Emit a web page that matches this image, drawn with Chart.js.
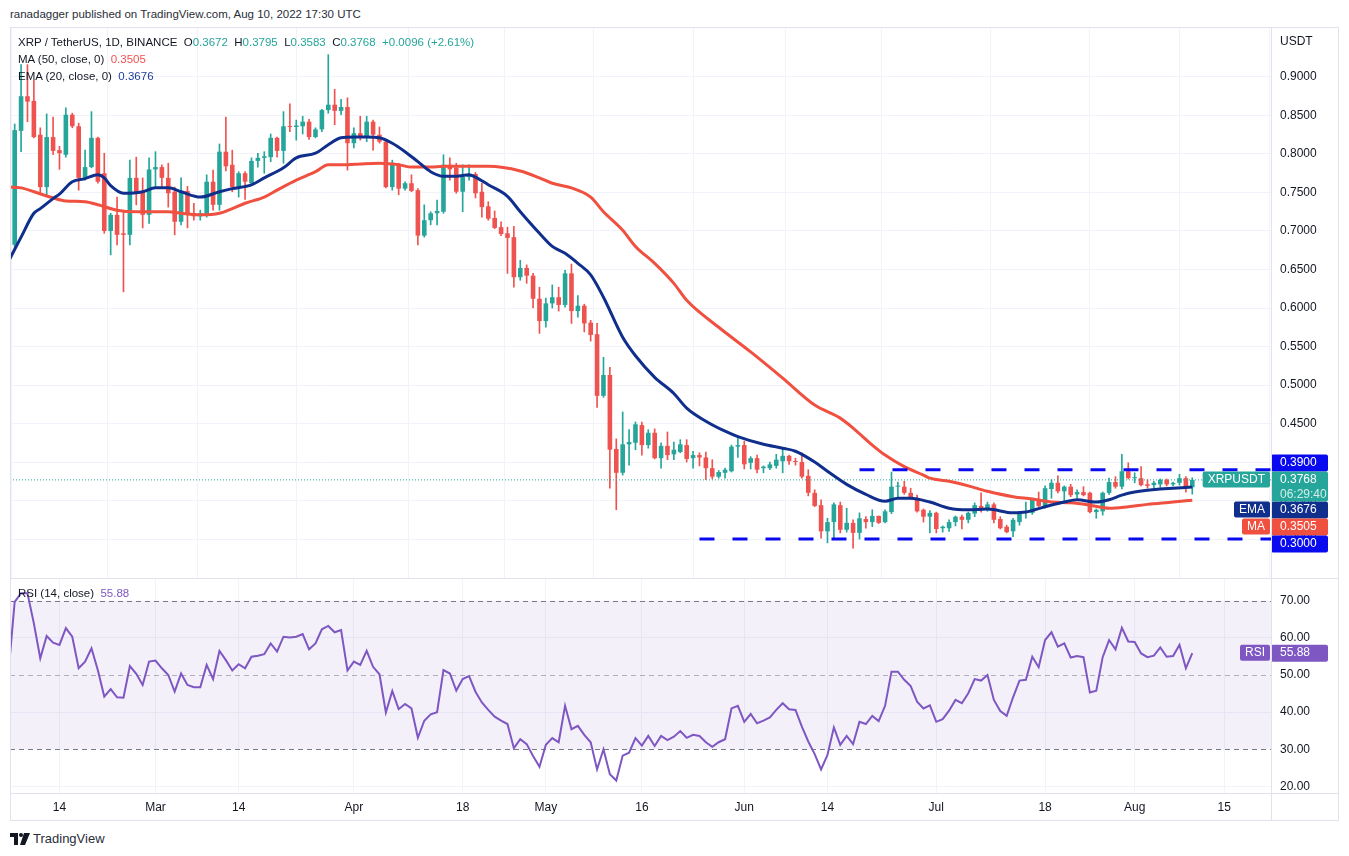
<!DOCTYPE html>
<html>
<head>
<meta charset="utf-8">
<title>XRP / TetherUS, 1D</title>
<script src="https://cdn.jsdelivr.net/npm/chart.js@4.4.1/dist/chart.umd.min.js"></script>
<style>
  html, body { margin: 0; padding: 0; background: #fff; }
  body { width: 1349px; height: 856px; position: relative; overflow: hidden;
         font-family: "Liberation Sans", Arial, sans-serif; color: #131722; }
  .abs { position: absolute; }
  #price-wrap { left: 0; top: 0; width: 1349px; height: 578px; }
  #rsi-wrap { left: 0; top: 578px; width: 1349px; height: 242px; }
  .line { position: absolute; background: #e0e3eb; pointer-events: none; }
  .txt { position: absolute; font-size: 11.5px; line-height: 14px; white-space: pre; }
  .up { color: #26a69a; }
</style>
</head>
<body>
<div class="txt" style="left:10px; top:7px; color:#2a2e39;">ranadagger published on TradingView.com, Aug 10, 2022 17:30 UTC</div>

<div id="price-wrap" class="abs"><canvas id="price"></canvas></div>
<div id="rsi-wrap" class="abs"><canvas id="rsi"></canvas></div>

<!-- frame -->
<div class="line" style="left:10px; top:27px; width:1329px; height:1px;"></div>
<div class="line" style="left:10px; top:820px; width:1329px; height:1px;"></div>
<div class="line" style="left:10px; top:27px; width:1px; height:794px;"></div>
<div class="line" style="left:1338px; top:27px; width:1px; height:794px;"></div>
<div class="line" style="left:1271px; top:27px; width:1px; height:794px;"></div>
<div class="line" style="left:10px; top:578px; width:1329px; height:1px;"></div>
<div class="line" style="left:10px; top:793px; width:1329px; height:1px;"></div>

<div class="txt" style="left:18px; top:35px;">XRP / TetherUS, 1D, BINANCE  O<span class="up">0.3672</span>  H<span class="up">0.3795</span>  L<span class="up">0.3583</span>  C<span class="up">0.3768</span>  <span class="up">+0.0096 (+2.61%)</span></div>
<div class="txt" style="left:18px; top:52px;">MA (50, close, 0)  <span style="color:#ef5350">0.3505</span></div>
<div class="txt" style="left:18px; top:69px;">EMA (20, close, 0)  <span style="color:#1e3f9a">0.3676</span></div>
<div class="txt" style="left:18px; top:586px;">RSI (14, close)  <span style="color:#7e57c2">55.88</span></div>
<div class="txt" style="left:1280px; top:34px; font-size:12px;">USDT</div>

<svg class="abs" style="left:10px; top:833px;" width="20" height="12" viewBox="0 0 20 12">
  <path d="M0 0h8v12h-4v-8h-4z" fill="#131722"/>
  <circle cx="11" cy="2" r="2" fill="#131722"/>
  <path d="M14 0h6l-5 12h-5z" fill="#131722"/>
</svg>
<div class="txt" style="left:33px; top:831px; font-size:13px; line-height:16px; color:#2a2e39;">TradingView</div>

<script>
// Daily candles, XRP/USDT, Binance, 6 Feb 2022 (index 0) .. 10 Aug 2022 (index 185)
const open = [
  0.665, 0.682, 0.830, 0.875, 0.869, 0.825, 0.757, 0.822, 0.805, 0.799,
  0.851, 0.836, 0.769, 0.783, 0.821, 0.775, 0.700, 0.721, 0.697, 0.695,
  0.769, 0.751, 0.721, 0.780, 0.783, 0.769, 0.751, 0.712, 0.752, 0.723,
  0.719, 0.721, 0.764, 0.734, 0.803, 0.786, 0.757, 0.775, 0.762, 0.791,
  0.795, 0.796, 0.821, 0.804, 0.836, 0.835, 0.836, 0.842, 0.822, 0.832,
  0.857, 0.864, 0.856, 0.861, 0.814, 0.827, 0.822, 0.842, 0.825, 0.816,
  0.757, 0.786, 0.755, 0.762, 0.753, 0.694, 0.714, 0.723, 0.725, 0.786,
  0.782, 0.751, 0.770, 0.774, 0.751, 0.732, 0.717, 0.705, 0.697, 0.692,
  0.640, 0.652, 0.642, 0.612, 0.583, 0.606, 0.614, 0.604, 0.645, 0.596,
  0.603, 0.581, 0.566, 0.486, 0.513, 0.417, 0.386, 0.423, 0.425, 0.448,
  0.422, 0.438, 0.405, 0.421, 0.410, 0.413, 0.422, 0.405, 0.409, 0.406,
  0.392, 0.381, 0.386, 0.388, 0.420, 0.422, 0.399, 0.405, 0.392, 0.392,
  0.395, 0.401, 0.408, 0.401, 0.400, 0.382, 0.360, 0.344, 0.310, 0.322,
  0.344, 0.312, 0.321, 0.308, 0.326, 0.322, 0.330, 0.322, 0.335, 0.368,
  0.368, 0.360, 0.353, 0.338, 0.329, 0.334, 0.314, 0.314, 0.322, 0.329,
  0.325, 0.333, 0.343, 0.339, 0.345, 0.326, 0.316, 0.310, 0.322, 0.334,
  0.334, 0.352, 0.343, 0.365, 0.373, 0.362, 0.368, 0.358, 0.361, 0.360,
  0.335, 0.336, 0.360, 0.374, 0.368, 0.388, 0.379, 0.379, 0.371, 0.370,
  0.371, 0.377, 0.371, 0.373, 0.379, 0.3672
];
const high = [
  0.690, 0.839, 0.916, 0.916, 0.896, 0.834, 0.852, 0.848, 0.810, 0.860,
  0.853, 0.840, 0.805, 0.855, 0.822, 0.801, 0.723, 0.744, 0.725, 0.792,
  0.796, 0.769, 0.795, 0.803, 0.786, 0.788, 0.757, 0.769, 0.758, 0.736,
  0.727, 0.773, 0.779, 0.813, 0.848, 0.805, 0.777, 0.777, 0.795, 0.801,
  0.803, 0.826, 0.822, 0.855, 0.865, 0.844, 0.849, 0.845, 0.834, 0.858,
  0.929, 0.884, 0.871, 0.873, 0.834, 0.849, 0.849, 0.844, 0.835, 0.816,
  0.792, 0.788, 0.764, 0.773, 0.755, 0.734, 0.725, 0.740, 0.799, 0.795,
  0.788, 0.786, 0.786, 0.776, 0.762, 0.738, 0.726, 0.712, 0.705, 0.706,
  0.662, 0.656, 0.645, 0.627, 0.613, 0.630, 0.627, 0.649, 0.657, 0.616,
  0.605, 0.584, 0.580, 0.536, 0.523, 0.430, 0.465, 0.442, 0.452, 0.452,
  0.442, 0.443, 0.425, 0.439, 0.426, 0.429, 0.429, 0.414, 0.412, 0.413,
  0.403, 0.389, 0.392, 0.422, 0.434, 0.427, 0.407, 0.409, 0.395, 0.400,
  0.410, 0.418, 0.409, 0.405, 0.412, 0.390, 0.364, 0.351, 0.327, 0.347,
  0.348, 0.340, 0.325, 0.334, 0.329, 0.338, 0.330, 0.338, 0.387, 0.374,
  0.375, 0.366, 0.357, 0.339, 0.337, 0.335, 0.317, 0.325, 0.330, 0.331,
  0.335, 0.347, 0.360, 0.348, 0.347, 0.329, 0.318, 0.327, 0.336, 0.348,
  0.353, 0.361, 0.369, 0.377, 0.382, 0.369, 0.371, 0.364, 0.368, 0.361,
  0.339, 0.361, 0.379, 0.381, 0.410, 0.399, 0.386, 0.394, 0.377, 0.375,
  0.378, 0.378, 0.374, 0.384, 0.381, 0.3795
];
const low = [
  0.658, 0.675, 0.803, 0.842, 0.821, 0.747, 0.747, 0.799, 0.780, 0.796,
  0.834, 0.753, 0.766, 0.782, 0.762, 0.697, 0.669, 0.682, 0.621, 0.682,
  0.734, 0.704, 0.710, 0.757, 0.757, 0.731, 0.695, 0.708, 0.704, 0.714,
  0.714, 0.718, 0.727, 0.727, 0.778, 0.751, 0.744, 0.741, 0.762, 0.783,
  0.775, 0.790, 0.796, 0.788, 0.829, 0.818, 0.826, 0.819, 0.821, 0.829,
  0.853, 0.838, 0.851, 0.779, 0.808, 0.818, 0.816, 0.805, 0.814, 0.756,
  0.753, 0.747, 0.753, 0.751, 0.682, 0.692, 0.708, 0.708, 0.723, 0.766,
  0.749, 0.725, 0.766, 0.743, 0.718, 0.714, 0.703, 0.694, 0.645, 0.627,
  0.636, 0.632, 0.600, 0.567, 0.575, 0.600, 0.596, 0.601, 0.580, 0.588,
  0.569, 0.557, 0.471, 0.484, 0.366, 0.338, 0.383, 0.396, 0.416, 0.409,
  0.418, 0.404, 0.392, 0.403, 0.403, 0.412, 0.400, 0.392, 0.395, 0.377,
  0.378, 0.379, 0.379, 0.387, 0.406, 0.391, 0.391, 0.386, 0.386, 0.390,
  0.392, 0.386, 0.397, 0.396, 0.379, 0.356, 0.342, 0.301, 0.295, 0.301,
  0.308, 0.309, 0.288, 0.300, 0.314, 0.316, 0.320, 0.321, 0.333, 0.355,
  0.358, 0.352, 0.335, 0.322, 0.308, 0.308, 0.309, 0.310, 0.317, 0.313,
  0.321, 0.329, 0.335, 0.336, 0.321, 0.313, 0.308, 0.303, 0.318, 0.327,
  0.332, 0.342, 0.340, 0.353, 0.360, 0.348, 0.355, 0.353, 0.356, 0.334,
  0.327, 0.331, 0.358, 0.366, 0.365, 0.378, 0.373, 0.369, 0.366, 0.366,
  0.367, 0.369, 0.369, 0.370, 0.361, 0.3583
];
const close = [
  0.682, 0.831, 0.875, 0.868, 0.822, 0.757, 0.822, 0.804, 0.801, 0.851,
  0.836, 0.769, 0.783, 0.821, 0.764, 0.700, 0.721, 0.695, 0.695, 0.769,
  0.749, 0.721, 0.780, 0.783, 0.769, 0.749, 0.712, 0.752, 0.721, 0.719,
  0.723, 0.764, 0.734, 0.803, 0.784, 0.757, 0.775, 0.764, 0.791, 0.795,
  0.797, 0.821, 0.804, 0.836, 0.835, 0.837, 0.842, 0.822, 0.832, 0.857,
  0.864, 0.856, 0.861, 0.814, 0.827, 0.821, 0.842, 0.825, 0.816, 0.757,
  0.786, 0.755, 0.762, 0.752, 0.694, 0.714, 0.723, 0.726, 0.786, 0.780,
  0.751, 0.770, 0.774, 0.749, 0.731, 0.716, 0.704, 0.696, 0.691, 0.640,
  0.652, 0.642, 0.612, 0.583, 0.606, 0.614, 0.604, 0.645, 0.596, 0.603,
  0.580, 0.565, 0.486, 0.513, 0.416, 0.386, 0.423, 0.426, 0.449, 0.422,
  0.438, 0.405, 0.421, 0.409, 0.416, 0.423, 0.404, 0.409, 0.406, 0.392,
  0.381, 0.387, 0.390, 0.420, 0.422, 0.397, 0.405, 0.390, 0.394, 0.397,
  0.403, 0.408, 0.401, 0.400, 0.381, 0.360, 0.343, 0.310, 0.322, 0.345,
  0.312, 0.321, 0.308, 0.327, 0.322, 0.330, 0.321, 0.336, 0.368, 0.369,
  0.360, 0.353, 0.336, 0.329, 0.334, 0.313, 0.316, 0.322, 0.329, 0.325,
  0.334, 0.344, 0.340, 0.345, 0.325, 0.314, 0.309, 0.325, 0.334, 0.335,
  0.352, 0.343, 0.366, 0.373, 0.362, 0.368, 0.357, 0.361, 0.357, 0.335,
  0.338, 0.360, 0.374, 0.368, 0.388, 0.379, 0.380, 0.370, 0.369, 0.373,
  0.377, 0.371, 0.373, 0.379, 0.367, 0.3768
];

// EMA 20 and MA 50 at these day indexes
const emaDays = [0, 2, 4, 5, 7, 8, 10, 12, 14, 15, 16, 18, 21, 23, 25, 27, 30, 33, 35, 38,
  40, 43, 45, 48, 50, 52, 54, 56, 58, 60, 62, 64, 66, 68, 70, 72, 73, 75, 78, 80,
  83, 85, 87, 89, 91, 93, 96, 98, 101, 104, 106, 109, 112, 114, 118, 121, 123, 126, 128, 131,
  134, 137, 139, 141, 144, 147, 150, 153, 157, 159, 162, 165, 167, 170, 172, 174, 176, 180, 182, 185];
const emaValues = [0.660, 0.692, 0.723, 0.729, 0.742, 0.748, 0.764, 0.768, 0.773, 0.769,
  0.759, 0.749, 0.751, 0.756, 0.756, 0.751, 0.744, 0.751, 0.755, 0.760,
  0.769, 0.782, 0.795, 0.801, 0.812, 0.821, 0.822, 0.822, 0.821, 0.814,
  0.803, 0.790, 0.777, 0.771, 0.771, 0.773, 0.770, 0.760, 0.745, 0.725,
  0.697, 0.680, 0.671, 0.658, 0.643, 0.614, 0.562, 0.538, 0.510, 0.489,
  0.470, 0.453, 0.440, 0.433, 0.423, 0.418, 0.414, 0.400, 0.388, 0.371,
  0.358, 0.349, 0.353, 0.353, 0.348, 0.340, 0.338, 0.339, 0.334, 0.335,
  0.342, 0.348, 0.351, 0.348, 0.351, 0.357, 0.361, 0.365, 0.366, 0.3676];
const maDays = [0, 2, 4, 7, 9, 12, 14, 17, 20, 22, 25, 27, 30, 33, 35, 37, 40, 42, 45, 48,
  50, 53, 55, 58, 61, 63, 66, 68, 72, 75, 80, 83, 85, 88, 91, 93, 96, 98, 101, 104,
  106, 111, 116, 121, 126, 130, 132, 135, 137, 140, 143, 144, 147, 150, 153, 157, 160, 163, 166, 169,
  172, 175, 178, 182, 185];
const maValues = [0.757, 0.756, 0.751, 0.743, 0.739, 0.738, 0.734, 0.727, 0.725, 0.725,
  0.725, 0.723, 0.721, 0.723, 0.729, 0.736, 0.744, 0.753, 0.766, 0.777,
  0.786, 0.786, 0.787, 0.788, 0.786, 0.783, 0.783, 0.784, 0.784, 0.784,
  0.778, 0.769, 0.762, 0.756, 0.744, 0.725, 0.701, 0.680, 0.658, 0.632,
  0.610, 0.575, 0.543, 0.509, 0.474, 0.457, 0.444, 0.422, 0.409, 0.394,
  0.383, 0.379, 0.375, 0.369, 0.362, 0.355, 0.352, 0.348, 0.347, 0.344,
  0.340, 0.342, 0.345, 0.348, 0.3505];

// RSI 14, one value per day
const rsi = [
  50.0, 69.7, 72.0, 72.0, 63.9, 54.5, 60.5, 58.7, 58.1, 62.6,
  60.3, 51.8, 53.6, 57.2, 51.3, 44.2, 46.2, 44.0, 43.9, 52.4,
  50.3, 47.3, 53.6, 53.9, 51.8, 50.0, 45.5, 50.4, 47.3, 46.7,
  46.7, 52.7, 48.9, 56.5, 54.0, 51.2, 52.9, 51.8, 54.9, 55.2,
  55.6, 58.5, 56.3, 60.3, 60.1, 60.3, 61.0, 56.9, 58.5, 62.3,
  63.2, 61.5, 62.1, 51.2, 53.6, 52.7, 56.5, 52.2, 50.2, 39.9,
  45.7, 40.8, 42.2, 41.0, 33.1, 37.7, 39.4, 40.0, 51.3, 50.4,
  45.8, 48.9, 49.7, 45.5, 42.6, 40.6, 38.8, 37.7, 36.8, 30.3,
  32.7, 31.4, 28.2, 25.3, 31.2, 33.0, 31.9, 41.7, 35.4, 36.3,
  33.9, 31.9, 24.6, 30.0, 23.3, 21.6, 28.3, 29.1, 33.0, 31.0,
  33.6, 30.9, 33.6, 32.5, 33.4, 34.9, 33.1, 33.9, 33.6, 31.9,
  30.7, 31.9, 32.7, 41.0, 41.7, 37.4, 39.5, 37.0, 37.7, 38.6,
  40.6, 42.4, 40.8, 40.6, 36.1, 32.1, 28.7, 24.6, 28.5, 35.9,
  31.2, 33.6, 31.4, 37.4, 36.8, 39.0, 37.6, 41.7, 50.9, 50.9,
  48.7, 47.0, 42.8, 41.0, 41.8, 37.4, 38.1, 40.4, 43.3, 42.4,
  45.1, 48.9, 48.5, 50.0, 43.3, 40.3, 39.0, 44.0, 48.5, 48.7,
  54.9, 52.1, 59.4, 61.5, 57.6, 58.5, 54.7, 55.1, 54.8, 45.3,
  45.8, 54.8, 59.4, 56.9, 62.7, 59.0, 58.9, 55.8, 54.8, 55.2,
  57.4, 54.9, 55.1, 58.1, 51.8, 55.88
];

// horizontal support / resistance drawn on the chart
const levels = [0.39, 0.30];
const levelStart = [133, 108];

// axis ticks
const tickDays = [8, 23, 36, 54, 71, 84, 99, 115, 128, 145, 162, 176, 190];
const tickLabels = ['14', 'Mar', '14', 'Apr', '18', 'May', '16', 'Jun', '14', 'Jul', '18', 'Aug', '15'];
const priceTicks = [0.30, 0.35, 0.40, 0.45, 0.50, 0.55, 0.60, 0.65, 0.70, 0.75, 0.80, 0.85, 0.90];
const rsiTicks = [20, 30, 40, 50, 60, 70];

const X_MIN = 0.27, X_MAX = 197.3;
const UP = '#26a69a', DOWN = '#ef5350';
const EMA_C = '#102f8c', MA_C = '#f0503f', LEVEL = '#0a0af0', RSI_C = '#7e57c2';
const GRID = '#f0f3fa', TEXT = '#131722';
const AXIS_FONT = { family: '"Liberation Sans", Arial, sans-serif', size: 12 };
const TAG_FONT = '12px "Liberation Sans", Arial, sans-serif';
const last = close.length - 1;

const candleColor = c => close[c.dataIndex] >= open[c.dataIndex] ? UP : DOWN;

// no label overhang padding, so each pane fills its box exactly
function noPad(s) {
  s.paddingTop = 0; s.paddingBottom = 0; s.paddingLeft = 0; s.paddingRight = 0;
}

function xAxis(showLabels) {
  return {
    type: 'linear', min: X_MIN, max: X_MAX, offset: false,
    afterBuildTicks: s => { s.ticks = tickDays.map(v => ({ value: v })); },
    afterFit: s => { s.height = showLabels ? 27 : 0; noPad(s); },
    grid: { color: GRID, drawTicks: false },
    border: { display: false },
    ticks: {
      display: showLabels, autoSkip: false, maxRotation: 0, padding: 7,
      color: TEXT, font: AXIS_FONT,
      callback: v => tickLabels[tickDays.indexOf(v)]
    }
  };
}

function drawTag(ctx, axisX, top, h, bg, text, name, sub) {
  ctx.save();
  ctx.font = TAG_FONT;
  ctx.textBaseline = 'middle';
  ctx.fillStyle = bg;
  ctx.beginPath();
  ctx.roundRect(axisX, top, 57, h, 2);
  ctx.fill();
  ctx.fillStyle = '#fff';
  ctx.textAlign = 'left';
  ctx.fillText(text, axisX + 9, top + 8.5);
  if (sub) {
    ctx.fillStyle = 'rgba(255,255,255,0.8)';
    ctx.fillText(sub, axisX + 9, top + 23);
  }
  if (name) {
    const w = ctx.measureText(name).width + 10;
    const nh = Math.min(h, 16);
    ctx.fillStyle = bg;
    ctx.beginPath();
    ctx.roundRect(axisX - 1 - w, top, w, nh, 2);
    ctx.fill();
    ctx.fillStyle = '#fff';
    ctx.textAlign = 'center';
    ctx.fillText(name, axisX - 1 - w / 2, top + 8.5);
  }
  ctx.restore();
}

// price tags on the right axis: the symbol's own tag stays put,
// the others are pushed up or down until they no longer overlap it
const priceTags = {
  id: 'priceTags',
  afterDraw(chart) {
    const { ctx, chartArea, scales: { y } } = chart;
    const main = { v: close[last], bg: UP, h: 30, name: 'XRPUSDT', sub: '06:29:40' };
    const others = [
      { v: levels[0], bg: LEVEL, h: 17 },
      { v: emaValues[emaValues.length - 1], bg: EMA_C, h: 17, name: 'EMA' },
      { v: maValues[maValues.length - 1], bg: MA_C, h: 17, name: 'MA' },
      { v: levels[1], bg: LEVEL, h: 17 }
    ];
    main.top = y.getPixelForValue(main.v) - 8.5;
    others.forEach(t => { t.top = y.getPixelForValue(t.v) - t.h / 2; });

    const above = others.filter(t => t.v > main.v).sort((a, b) => b.v - a.v);
    const below = others.filter(t => t.v <= main.v).sort((a, b) => b.v - a.v);
    let edge = main.top;
    above.forEach(t => { t.top = Math.min(t.top, edge - t.h); edge = t.top; });
    edge = main.top + main.h;
    below.forEach(t => { t.top = Math.max(t.top, edge); edge = t.top + t.h; });

    [...above, ...below, main].forEach(t =>
      drawTag(ctx, chartArea.right, t.top, t.h, t.bg, t.v.toFixed(4), t.name, t.sub));
  }
};

// RSI 30-70 band, its dashed bounds and the value tag
const rsiBand = {
  id: 'rsiBand',
  beforeDatasetsDraw(chart) {
    const { ctx, chartArea: a, scales: { y } } = chart;
    const y70 = y.getPixelForValue(70), y50 = y.getPixelForValue(50), y30 = y.getPixelForValue(30);
    ctx.save();
    ctx.fillStyle = 'rgba(126, 87, 194, 0.09)';
    ctx.fillRect(a.left, y70, a.right - a.left, y30 - y70);
    ctx.lineWidth = 1;
    ctx.setLineDash([5, 4]);
    [[y70, '#787b86'], [y30, '#787b86'], [y50, 'rgba(120,123,134,0.55)']].forEach(([py, col]) => {
      ctx.strokeStyle = col;
      ctx.beginPath();
      ctx.moveTo(a.left, Math.round(py) + 0.5);
      ctx.lineTo(a.right, Math.round(py) + 0.5);
      ctx.stroke();
    });
    ctx.restore();
  },
  afterDraw(chart) {
    const { ctx, chartArea, scales: { y } } = chart;
    const v = rsi[last];
    drawTag(ctx, chartArea.right, y.getPixelForValue(v) - 8.5, 17, RSI_C, v.toFixed(2), 'RSI');
  }
};

Chart.defaults.animation = false;
Chart.defaults.font.family = AXIS_FONT.family;

new Chart(document.getElementById('price'), {
  type: 'bar',
  data: {
    datasets: [
      {
        type: 'line', order: 1,
        data: emaDays.map((d, i) => ({ x: d, y: emaValues[i] })),
        borderColor: EMA_C, borderWidth: 3, pointRadius: 0, cubicInterpolationMode: 'monotone'
      },
      {
        type: 'line', order: 1,
        data: maDays.map((d, i) => ({ x: d, y: maValues[i] })),
        borderColor: MA_C, borderWidth: 3, pointRadius: 0, cubicInterpolationMode: 'monotone'
      },
      ...levels.map((lv, k) => ({
        type: 'line', order: 0,
        data: [{ x: levelStart[k], y: lv }, { x: X_MAX, y: lv }],
        borderColor: LEVEL, borderWidth: 3, borderDash: [15, 18], pointRadius: 0
      })),
      {
        type: 'line', order: 2,
        data: [{ x: X_MIN, y: close[last] }, { x: X_MAX, y: close[last] }],
        borderColor: UP, borderWidth: 1, borderDash: [1, 2], pointRadius: 0
      },
      {
        type: 'bar', order: 3, grouped: false,
        data: open.map((o, i) => ({ x: i, y: [o, close[i]] })),
        backgroundColor: candleColor, minBarLength: 1
      },
      {
        type: 'bar', order: 4, grouped: false,
        data: low.map((l, i) => ({ x: i, y: [l, high[i]] })),
        backgroundColor: candleColor, barThickness: 1, minBarLength: 1
      }
    ]
  },
  options: {
    responsive: true,
    maintainAspectRatio: false,
    layout: { padding: { left: 10, top: 27, right: 0, bottom: 0 } },
    plugins: { legend: { display: false }, tooltip: { enabled: false } },
    events: [],
    scales: {
      x: xAxis(false),
      y: {
        position: 'right', min: 0.2494, max: 0.9649,
        afterBuildTicks: s => { s.ticks = priceTicks.map(v => ({ value: v })); },
        afterFit: s => { s.width = 78; noPad(s); },
        grid: { color: GRID, drawTicks: false },
        border: { display: false },
        ticks: { padding: 9, color: TEXT, font: AXIS_FONT, callback: v => v.toFixed(4) }
      }
    }
  },
  plugins: [priceTags]
});

new Chart(document.getElementById('rsi'), {
  type: 'line',
  data: {
    datasets: [{
      data: rsi.map((v, i) => ({ x: i, y: v })),
      borderColor: RSI_C, borderWidth: 2, pointRadius: 0, tension: 0
    }]
  },
  options: {
    responsive: true,
    maintainAspectRatio: false,
    layout: { padding: { left: 10, top: 0, right: 0, bottom: 0 } },
    plugins: { legend: { display: false }, tooltip: { enabled: false } },
    events: [],
    scales: {
      x: xAxis(true),
      y: {
        position: 'right', min: 18.24, max: 76.1,
        afterBuildTicks: s => { s.ticks = rsiTicks.map(v => ({ value: v })); },
        afterFit: s => { s.width = 78; noPad(s); },
        grid: { color: c => c.tick && c.tick.value % 20 === 0 ? GRID : 'rgba(0,0,0,0)', drawTicks: false },
        border: { display: false },
        ticks: { padding: 9, color: TEXT, font: AXIS_FONT, callback: v => v.toFixed(2) }
      }
    }
  },
  plugins: [rsiBand]
});
</script>
</body>
</html>
